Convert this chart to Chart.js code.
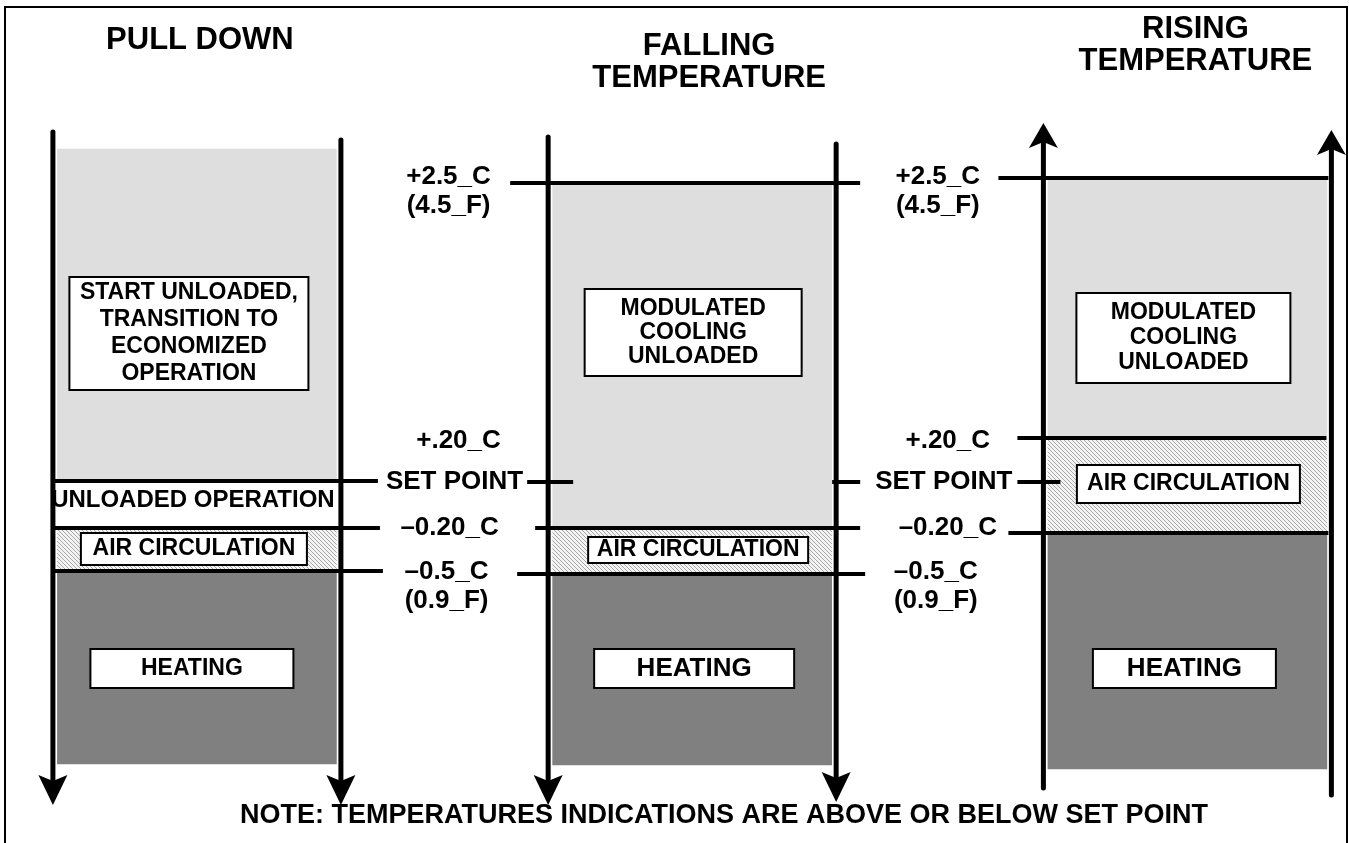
<!DOCTYPE html>
<html>
<head>
<meta charset="utf-8">
<script src="https://cdn.jsdelivr.net/npm/chart.js@4.4.0/dist/chart.umd.min.js"></script>
<style>
body { margin: 0; background: #fff; }
canvas { display: block; }
</style>
</head>
<body>
<canvas id="modeChart" width="1349" height="843"></canvas>
<script>
var columns = ['PULL DOWN', 'FALLING TEMPERATURE', 'RISING TEMPERATURE'];
var titleLines = [['PULL DOWN'], ['FALLING', 'TEMPERATURE'], ['RISING', 'TEMPERATURE']];

// band edges on the schematic scale (set point = 0, not to scale)
var setPoint = 0;
var coolingBand = [[0.1, 33.3], [-4.6, 29.9], [4.4, 30.4]];
var unloadedBand = [[-4.6, 0.1], null, null];
var airBand = [[-8.9, -4.6], [-9.2, -4.6], [-5.1, 4.4]];
var heatingBand = [[-28.2, -8.9], [-28.3, -9.2], [-28.7, -5.1]];

// arrow shafts [bottom, top]
var leftShaft = [[-32.3, 35.0], [-32.3, 34.5], [-30.6, 35.9]];
var rightShaft = [[-32.3, 34.2], [-32.0, 33.8], [-31.3, 35.2]];
var arrowDir = ['down', 'down', 'up'];

// threshold labels shown between the columns
var levelText = ['+2.5_C', '+.20_C', 'SET POINT', '\u20130.20_C', '\u20130.5_C'];
var levelSub = ['(4.5_F)', '', '', '', '(0.9_F)'];
var levelValue = [30.5, 4.1, 0, -4.6, -9.0];

var coolingText = [
    ['START UNLOADED,', 'TRANSITION TO', 'ECONOMIZED', 'OPERATION'],
    ['MODULATED', 'COOLING', 'UNLOADED'],
    ['MODULATED', 'COOLING', 'UNLOADED']
];
var noteText = 'NOTE: TEMPERATURES INDICATIONS ARE ABOVE OR BELOW SET POINT';

var FONT = '"Liberation Sans", Arial, sans-serif';

function hatchPattern() {
    var c = document.createElement('canvas');
    c.width = 4; c.height = 4;
    var g = c.getContext('2d');
    g.fillStyle = '#f3f3f3';
    g.fillRect(0, 0, 4, 4);
    g.strokeStyle = '#a8a8a8';
    g.lineWidth = 1;
    g.beginPath();
    g.moveTo(0, 0); g.lineTo(4, 4);
    g.moveTo(-1, 3); g.lineTo(1, 5);
    g.moveTo(3, -1); g.lineTo(5, 1);
    g.stroke();
    return g.createPattern(c, 'repeat');
}

function bandData(band) {
    var out = [];
    band.forEach(function (b, i) { if (b) out.push({ x: i, y: b }); });
    return out;
}

function bandSet(label, band, color) {
    return {
        label: label,
        data: bandData(band),
        backgroundColor: color,
        borderWidth: 0,
        barThickness: 279,
        grouped: false
    };
}

function boxLabel(ctx, x, y, w, h, lines, size, lh) {
    ctx.fillStyle = '#fff';
    ctx.fillRect(x - w / 2, y - h / 2, w, h);
    ctx.strokeStyle = '#000';
    ctx.lineWidth = 2;
    ctx.strokeRect(x - w / 2, y - h / 2, w, h);
    textLines(ctx, x, y, lines, size, lh);
}

function textLines(ctx, x, y, lines, size, lh) {
    ctx.fillStyle = '#000';
    ctx.font = 'bold ' + size + 'px ' + FONT;
    ctx.textAlign = 'center';
    ctx.textBaseline = 'middle';
    var y0 = y - (lines.length - 1) * lh / 2;
    lines.forEach(function (t, i) { ctx.fillText(t, x, y0 + i * lh); });
}

function seg(ctx, x0, x1, y) {
    ctx.beginPath();
    ctx.moveTo(x0, y);
    ctx.lineTo(x1, y);
    ctx.stroke();
}

function arrow(ctx, x, yTop, yBot, dir) {
    var hh = dir === 'down' ? 30 : 25;
    ctx.strokeStyle = '#000';
    ctx.lineWidth = 5;
    ctx.lineCap = 'round';
    ctx.beginPath();
    if (dir === 'down') { ctx.moveTo(x, yTop); ctx.lineTo(x, yBot - hh + 6); }
    else { ctx.moveTo(x, yTop + hh - 6); ctx.lineTo(x, yBot); }
    ctx.stroke();
    ctx.lineCap = 'butt';
    ctx.fillStyle = '#000';
    ctx.beginPath();
    if (dir === 'down') {
        ctx.moveTo(x, yBot);
        ctx.lineTo(x - 14.5, yBot - hh);
        ctx.lineTo(x, yBot - hh + 6);
        ctx.lineTo(x + 14.5, yBot - hh);
    } else {
        ctx.moveTo(x, yTop);
        ctx.lineTo(x - 14.5, yTop + hh);
        ctx.lineTo(x, yTop + hh - 6);
        ctx.lineTo(x + 14.5, yTop + hh);
    }
    ctx.closePath();
    ctx.fill();
}

var diagramPlugin = {
    id: 'diagram',
    afterDatasetsDraw: function (chart) {
        var ctx = chart.ctx, xs = chart.scales.x, ys = chart.scales.y;
        var py = function (v) { return ys.getPixelForValue(v); };
        var cx = columns.map(function (c, i) { return xs.getPixelForValue(i); });
        var L = cx.map(function (c) { return c - 144; });
        var R = cx.map(function (c) { return c + 144; });
        ctx.save();

        // level lines
        ctx.strokeStyle = '#000';
        ctx.lineWidth = 4;
        var segs = [
            [0, unloadedBand[0][1], L[0], R[0] + 37],
            [0, airBand[0][1], L[0], R[0] + 39],
            [0, heatingBand[0][1], L[0], R[0] + 42],
            [1, coolingBand[1][1], L[1] - 38, R[1] + 24],
            [1, setPoint, L[1] - 21, L[1] + 25],
            [1, setPoint, R[1] - 4, R[1] + 24],
            [1, airBand[1][1], L[1] - 13, R[1] + 24],
            [1, heatingBand[1][1], L[1] - 31, R[1] + 29],
            [2, coolingBand[2][1], L[2] - 45, R[2] - 3],
            [2, airBand[2][1], L[2] - 26, R[2] - 5],
            [2, setPoint, L[2] - 26, L[2] + 17],
            [2, heatingBand[2][1], L[2] - 35, R[2] - 3]
        ];
        segs.forEach(function (s) { seg(ctx, s[2], s[3], py(s[1])); });

        // arrows
        columns.forEach(function (c, i) {
            arrow(ctx, L[i], py(leftShaft[i][1]), py(leftShaft[i][0]), arrowDir[i]);
            arrow(ctx, R[i], py(rightShaft[i][1]), py(rightShaft[i][0]), arrowDir[i]);
        });

        // labels between the columns
        var gapX = [(cx[0] + cx[1]) / 2 + 4, (cx[1] + cx[2]) / 2 - 2];
        var labelDx = [0, 10, 6, 3, -2];
        gapX.forEach(function (gx, g) {
            levelText.forEach(function (t, k) {
                var dx = labelDx[k];
                if (k === 3) dx = g === 0 ? 1 : 10;
                var y = py(levelValue[k]);
                textLines(ctx, gx + dx, y, [t], 26, 29);
                if (levelSub[k]) textLines(ctx, gx + dx, y + 29, [levelSub[k]], 26, 29);
            });
        });

        // region boxes
        var coolBox = [[-8, 14.85, 239, 113, 27], [1, 14.95, 217, 87, 24], [-4, 14.4, 214, 90, 25]];
        coolBox.forEach(function (b, i) {
            boxLabel(ctx, cx[i] + b[0], py(b[1]), b[2], b[3], coolingText[i], 23, b[4]);
        });
        textLines(ctx, cx[0] - 4, py(-1.8), ['UNLOADED OPERATION'], 24, 28);
        var airBox = [[-3, -6.7, 226, 32], [6, -6.8, 220, 26], [1, -0.2, 223, 38]];
        airBox.forEach(function (b, i) {
            boxLabel(ctx, cx[i] + b[0], py(b[1]), b[2], b[3], ['AIR CIRCULATION'], 23, 28);
        });
        var heatBox = [[-5, 203, 23], [2, 200, 26], [-3, 183, 26]];
        heatBox.forEach(function (b, i) {
            boxLabel(ctx, cx[i] + b[0], py(-18.65), b[1], 39, ['HEATING'], b[2], 28);
        });

        // titles
        var titleDx = [3, 17, 8];
        var titleY = [[40], [46, 78], [29, 61]];
        titleLines.forEach(function (lines, i) {
            lines.forEach(function (t, k) {
                textLines(ctx, cx[i] + titleDx[i], titleY[i][k], [t], 31, 0);
            });
        });

        // note
        textLines(ctx, 724, 816, [noteText], 27, 0);

        // frame
        ctx.strokeStyle = '#000';
        ctx.lineWidth = 2;
        ctx.strokeRect(5, 7, 1342, 860);
        ctx.restore();
    }
};

var ctx = document.getElementById('modeChart').getContext('2d');
var modeChart = new Chart(ctx, {
    type: 'bar',
    data: {
        datasets: [
            bandSet('Cooling', coolingBand, '#dedede'),
            bandSet('Unloaded operation', unloadedBand, '#ffffff'),
            bandSet('Air circulation', airBand, hatchPattern()),
            bandSet('Heating', heatingBand, '#808080')
        ]
    },
    options: {
        responsive: false,
        animation: false,
        layout: { padding: 0 },
        plugins: {
            legend: { display: false },
            tooltip: { enabled: false }
        },
        scales: {
            x: { type: 'linear', display: false, offset: false, min: -0.3976, max: 2.3263 },
            y: { display: false, min: -36.1, max: 48.2 }
        }
    },
    plugins: [diagramPlugin]
});
</script>
</body>
</html>
